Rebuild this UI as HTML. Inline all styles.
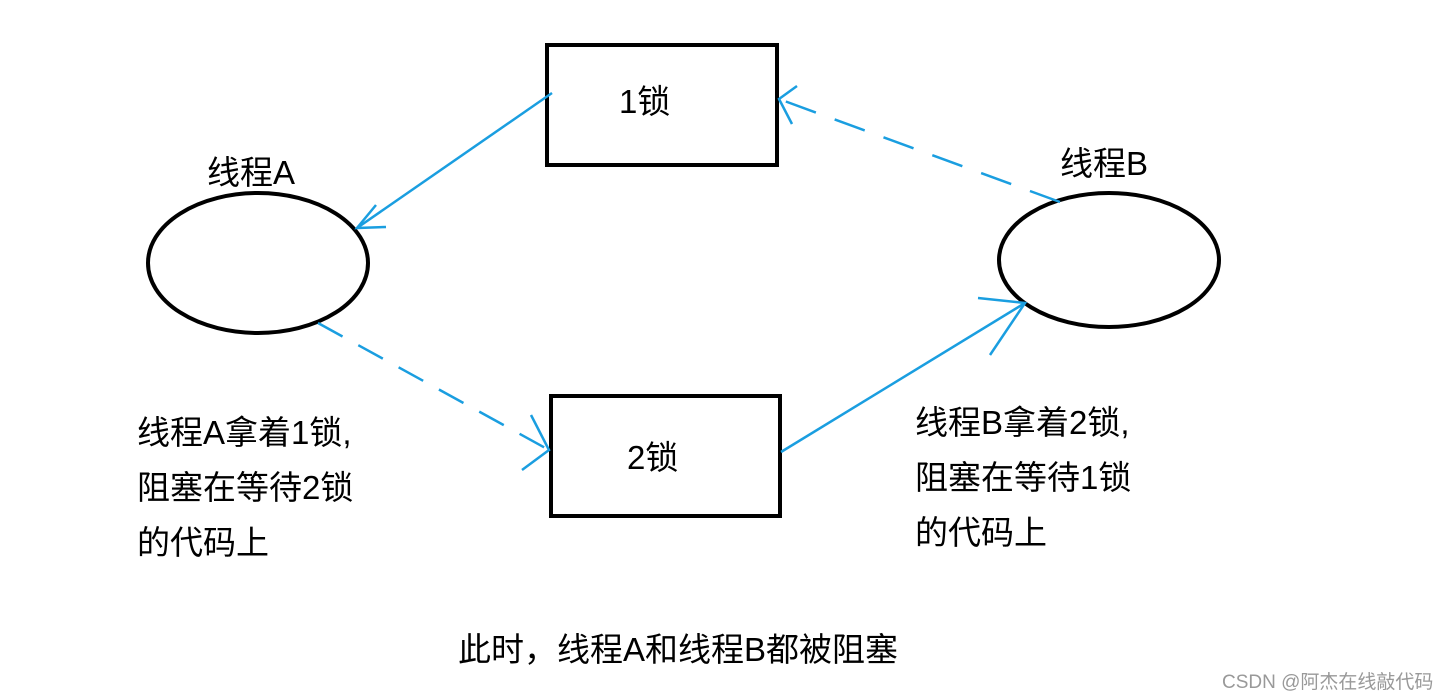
<!DOCTYPE html>
<html><head><meta charset="utf-8"><style>
body{margin:0;background:#fff;width:1448px;height:699px;overflow:hidden}
svg{display:block}
text{font-family:"Liberation Sans","Noto Sans CJK SC",sans-serif;fill:#000}
</style></head><body>
<svg width="1448" height="699" viewBox="0 0 1448 699">
<g fill="none" stroke="#000" stroke-width="4">
<rect x="547" y="45" width="230" height="120"/>
<rect x="551" y="396" width="229" height="120"/>
<ellipse cx="258" cy="263" rx="110" ry="70"/>
<ellipse cx="1109" cy="260" rx="110" ry="67"/>
</g>
<g fill="none" stroke="#1a9ee0" stroke-width="2.5">
<line x1="552" y1="93" x2="357" y2="228"/>
<polyline points="376,205 357,228 386,227"/>
<line x1="318" y1="323" x2="549" y2="450" stroke-dasharray="28,18"/>
<polyline points="531,415 549,450 522,470"/>
<line x1="781" y1="452" x2="1025" y2="303"/>
<polyline points="978,298 1025,303 990,355"/>
<line x1="1060" y1="202" x2="779" y2="99" stroke-dasharray="32,20"/>
<polyline points="797,86 779,99 792,124"/>
</g>
<g font-size="33">
<text x="619" y="113">1锁</text>
<text x="627" y="469">2锁</text>
<text x="207" y="184">线程A</text>
<text x="1060" y="175">线程B</text>
<text x="137" y="444">线程A拿着1锁,</text>
<text x="137" y="499">阻塞在等待2锁</text>
<text x="137" y="554">的代码上</text>
<text x="915" y="434">线程B拿着2锁,</text>
<text x="915" y="489">阻塞在等待1锁</text>
<text x="915" y="544">的代码上</text>
<text x="458" y="661">此时，线程A和线程B都被阻塞</text>
</g>
<text x="1222" y="688" font-size="19" style="fill:#999">CSDN @阿杰在线敲代码</text>
</svg>
</body></html>
